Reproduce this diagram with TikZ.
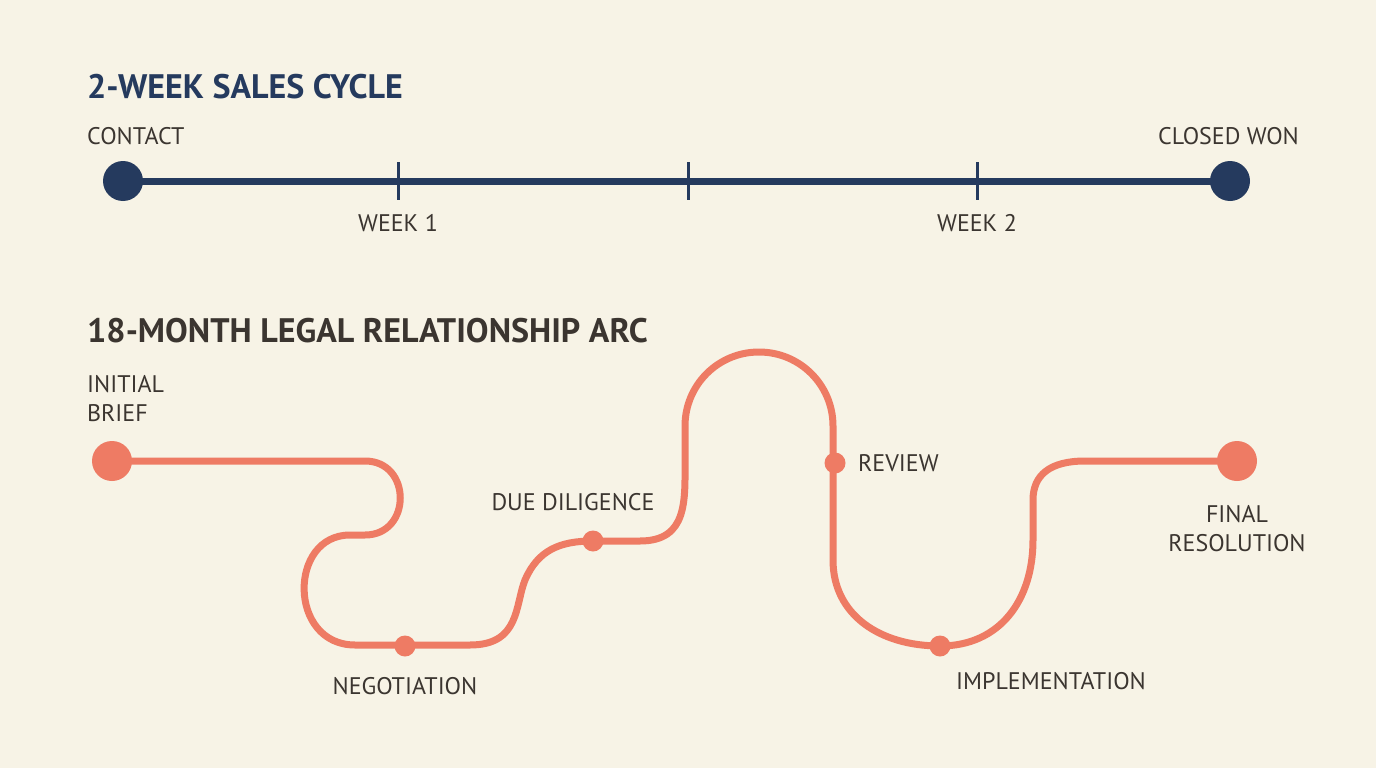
\documentclass[tikz,border=0pt]{standalone}
\usepackage{fontspec}
\setmainfont{PT Sans}
\definecolor{bg}{HTML}{F7F3E6}
\definecolor{navy}{HTML}{253A5E}
\definecolor{coral}{HTML}{EE7B64}
\definecolor{brn}{HTML}{3B3530}
\begin{document}
\begin{tikzpicture}[x=1pt,y=-1pt,
  ttl/.style={font=\fontsize{34}{38}\selectfont\bfseries,anchor=west,inner sep=0},
  lbl/.style={font=\fontsize{24}{29}\selectfont,text=brn,inner sep=0},
  bigdot/.style={circle,inner sep=0,minimum size=40pt},
  smdot/.style={circle,fill=coral,inner sep=0,minimum size=21pt}]
\fill[bg] (0,0) rectangle (1376,768);
\useasboundingbox (0,0) rectangle (1376,768);
% top
\node[ttl,text=navy] (t1) at (87,87) {2-WEEK SALES CYCLE};
\node[bigdot,fill=navy] (c0) at (123,181) {};
\node[bigdot,fill=navy] (c1) at (1230,181) {};
\draw[navy,line width=7pt] (c0.center) -- (c1.center);
\foreach \x/\n in {398/a,688/b,977/c}{\draw[navy,line width=3pt] (\x,162) -- (\x,200);}
\node[lbl,anchor=west] (l1) at (87,136) {CONTACT};
\node[lbl,anchor=east] (l2) at (1299,136) {CLOSED WON};
\node[lbl] (l3) at (398,223) {WEEK 1};
\node[lbl] (l4) at (977,223) {WEEK 2};
% bottom
\node[ttl,text=brn] (t2) at (87,331) {18-MONTH LEGAL RELATIONSHIP ARC};
\node[bigdot,fill=coral] (s) at (112,461) {};
\node[bigdot,fill=coral] (e) at (1237,461) {};
\draw[coral,line width=7pt,line cap=round,line join=round]
 (s.center) -- (365,461) .. controls (412,461) and (412,535) .. (365,535) -- (350,535)
 .. controls (288,535) and (288,645) .. (355,645) -- (470,645)
 .. controls (520,645) and (515,605) .. (525,580) .. controls (538,550) and (560,541) .. (593,541) -- (640,541)
 .. controls (688,541) and (685,500) .. (685,460) -- (685,426)
 .. controls (685,385) and (718,352) .. (759,352) .. controls (800,352) and (833,385) .. (833,426)
 -- (833,560) .. controls (833,615) and (880,646) .. (940,646)
 .. controls (1000,646) and (1033,600) .. (1033,540) -- (1033,500)
 .. controls (1033,475) and (1050,461) .. (1085,461) -- (e.center);
\node[smdot] (n1) at (405,646) {};
\node[smdot] (n2) at (593,541) {};
\node[smdot] (n3) at (835,463) {};
\node[smdot] (n4) at (940,646) {};
\node[lbl,anchor=west,align=left] (b1) at (87,399) {INITIAL\\BRIEF};
\node[lbl] (b2) at (405,686) {NEGOTIATION};
\node[lbl] (b3) at (573,502) {DUE DILIGENCE};
\node[lbl,anchor=west] (b4) at (858,463) {REVIEW};
\node[lbl,align=center] (b5) at (1237,529) {FINAL\\RESOLUTION};
\node[lbl] (b6) at (1051,681) {IMPLEMENTATION};
\end{tikzpicture}
\end{document}
